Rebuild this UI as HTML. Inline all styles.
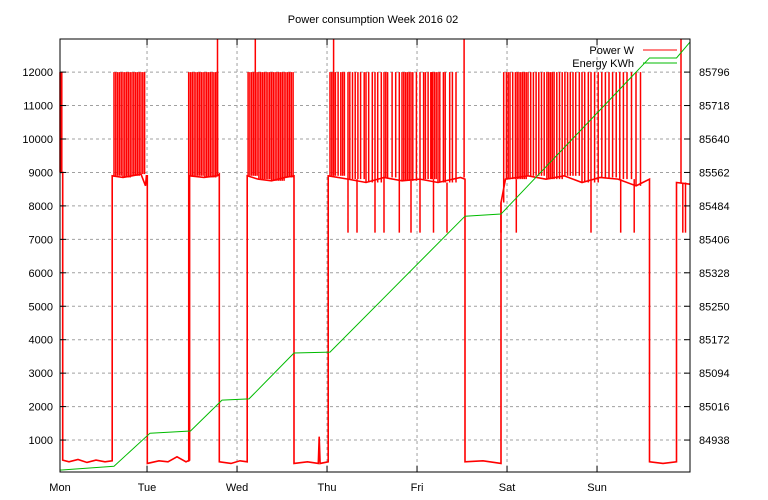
<!DOCTYPE html>
<html><head><meta charset="utf-8"><style>
body{margin:0;background:#fff}
svg{display:block;font-family:"Liberation Sans",sans-serif;font-size:11px}
</style></head><body>
<svg id="chart" width="768" height="500" viewBox="0 0 768 500">
<rect width="768" height="500" fill="#fff"/>
<text x="373" y="23" text-anchor="middle">Power consumption Week 2016 02</text>
<g id="grid"></g>
<g id="series"></g>
<g id="axes"></g>
<g>
<text x="634" y="54" text-anchor="end">Power W</text>
<line x1="643" y1="50" x2="677" y2="50" stroke="#f00"/>
<text x="634" y="67" text-anchor="end">Energy KWh</text>
<line x1="643" y1="63" x2="677" y2="63" stroke="#0b0"/>
</g>
</svg>
<script>
const dayLabels=["Mon","Tue","Wed","Thu","Fri","Sat","Sun"];
const dayTicks=[0,0.967,1.967,2.967,3.967,4.967,5.967];
const leftTicks=[1000,2000,3000,4000,5000,6000,7000,8000,9000,10000,11000,12000];
const rightTicks=[84938,85016,85094,85172,85250,85328,85406,85484,85562,85640,85718,85796];
const energyT=[0,0.6,1.0,1.45,1.8,2.1,2.6,3.0,4.5,4.9,6.55,6.85,7.0];
const energyK=[84868,84877,84954,84959,85031,85034,85141,85143,85460,85465,85829,85829,85866];
const baseT=[0,0.03,0.03,0.1,0.2,0.3,0.4,0.5,0.58,0.58,0.7,0.8,0.9,0.95,0.96,0.97,0.97,1.1,1.2,1.3,1.4,1.44,1.44,1.6,1.75,1.77,1.77,1.9,2.0,2.08,2.08,2.2,2.35,2.5,2.6,2.6,2.75,2.87,2.88,2.89,2.98,2.98,3.2,3.4,3.6,3.8,4.0,4.2,4.45,4.5,4.5,4.7,4.9,4.9,4.95,5.2,5.4,5.6,5.8,6.0,6.2,6.4,6.55,6.55,6.7,6.85,6.85,7.0];
const baseW=[9000,9000,400,350,420,330,400,350,380,8900,8850,8900,8950,8600,8900,8900,300,380,350,500,350,400,8900,8850,8900,8950,350,300,380,350,8900,8800,8750,8850,8900,300,350,300,1100,300,350,8900,8800,8700,8850,8750,8800,8700,8850,8800,350,380,300,8100,8800,8900,8800,8900,8700,8850,8800,8600,8800,350,300,350,8700,8650];
const spikeT=[0.0,0.01,0.02,0.6,0.62,0.64,0.66,0.68,0.7,0.72,0.74,0.76,0.78,0.8,0.82,0.84,0.86,0.88,0.9,0.92,0.94,
1.43,1.45,1.47,1.49,1.51,1.53,1.55,1.57,1.59,1.61,1.63,1.65,1.67,1.69,1.71,1.73,1.75,
2.09,2.11,2.13,2.15,2.17,2.19,2.21,2.23,2.25,2.27,2.29,2.31,2.33,2.35,2.37,2.39,2.41,2.43,2.45,2.47,2.49,2.51,2.53,2.55,2.57,2.59,
3.0,3.02,3.04,3.06,3.09,3.12,3.14,3.16,3.2,3.22,3.25,3.28,3.31,3.34,3.38,3.4,3.43,3.47,3.5,3.53,3.57,3.6,3.62,3.64,3.69,3.73,3.77,3.8,3.82,3.84,3.86,3.88,3.9,3.92,3.96,4.0,4.04,4.06,4.09,4.12,4.13,4.14,4.16,4.18,4.2,4.22,4.26,4.28,4.33,4.36,4.4,
4.93,4.96,4.98,5.0,5.03,5.06,5.08,5.1,5.12,5.14,5.16,5.18,5.2,5.23,5.26,5.29,5.32,5.35,5.38,5.41,5.43,5.45,5.47,5.49,5.52,5.55,5.58,5.61,5.64,5.67,5.7,5.73,5.77,5.8,5.83,5.87,5.9,5.94,5.98,6.02,6.06,6.1,6.14,6.18,6.22,6.26,6.3,6.35,6.4,6.45];
const tallT=[1.75,2.17,3.04,4.49,6.9];
const dipT=[3.2,3.3,3.5,3.6,3.77,3.9,4.0,4.15,4.3,4.9,5.07,5.9,6.23,6.38,6.92,6.95];
const L=60,R=690,T=39,B=472;
const x=d=>L+d/7*(R-L);
const yL=w=>473.5-w*33.45/1000;
const yR=k=>473.5-(k-84860)/78*33.45;
const NS="http://www.w3.org/2000/svg";
function mk(tag,attrs,parent,text){const e=document.createElementNS(NS,tag);for(const k in attrs)e.setAttribute(k,attrs[k]);if(text!==undefined)e.textContent=text;document.getElementById(parent).appendChild(e);return e;}
function baseAt(t){for(let i=baseT.length-1;i>=0;i--){if(baseT[i]<=t)return baseW[i];}return baseW[0];}
leftTicks.forEach((v,i)=>{
 const y=yL(v);
 const g=mk('line',{x1:L,x2:R,y1:y,y2:y,stroke:'#a0a0a0','stroke-dasharray':'3,3'},'grid');
 
 const t=mk('text',{x:L-7,y:y+4,'text-anchor':'end'},'axes',v);
 
 const tk=mk('line',{x1:L,x2:L+6,y1:y,y2:y,stroke:'#000'},'axes');
 
 const tk2=mk('line',{x1:R-6,x2:R,y1:y,y2:y,stroke:'#000'},'axes');
 
});
rightTicks.forEach(v=>{
 const t=mk('text',{x:R+9,y:yR(v)+4},'axes',v);
 
});
dayLabels.forEach((d,i)=>{
 const xx=x(dayTicks[i]);
 if(i>0){const g=mk('line',{x1:xx,x2:xx,y1:T,y2:B,stroke:'#a0a0a0','stroke-dasharray':'3,3'},'grid');
 }
 const t=mk('text',{x:xx,y:B+19,'text-anchor':'middle'},'axes',d);
 
 const a=mk('line',{x1:xx,x2:xx,y1:B-6,y2:B,stroke:'#000'},'axes');
 
 const b=mk('line',{x1:xx,x2:xx,y1:T,y2:T+6,stroke:'#000'},'axes');
 
});
const fr=mk('rect',{x:L,y:T,width:R-L,height:B-T,fill:'none',stroke:'#000'},'axes');

const pb=mk('polyline',{points:baseT.map((t,i)=>x(t)+','+yL(baseW[i])).join(' '),fill:'none',stroke:'#f00','stroke-width':1.6},'series');

function spike(t,v,name){const l=mk('line',{x1:x(t),x2:x(t),y1:yL(baseAt(t)),y2:Math.max(T,yL(v)),stroke:'#f00','stroke-width':1.5},'series');
 }
spikeT.forEach(t=>spike(t,12000,'power-spike'));
tallT.forEach(t=>spike(t,13000,'power-tall-spike'));
dipT.forEach(t=>spike(t,7200,'power-dip'));
const en=mk('polyline',{points:energyT.map((t,i)=>x(t)+','+yR(energyK[i])).join(' '),fill:'none',stroke:'#0b0'},'series');

</script>
</body></html>
